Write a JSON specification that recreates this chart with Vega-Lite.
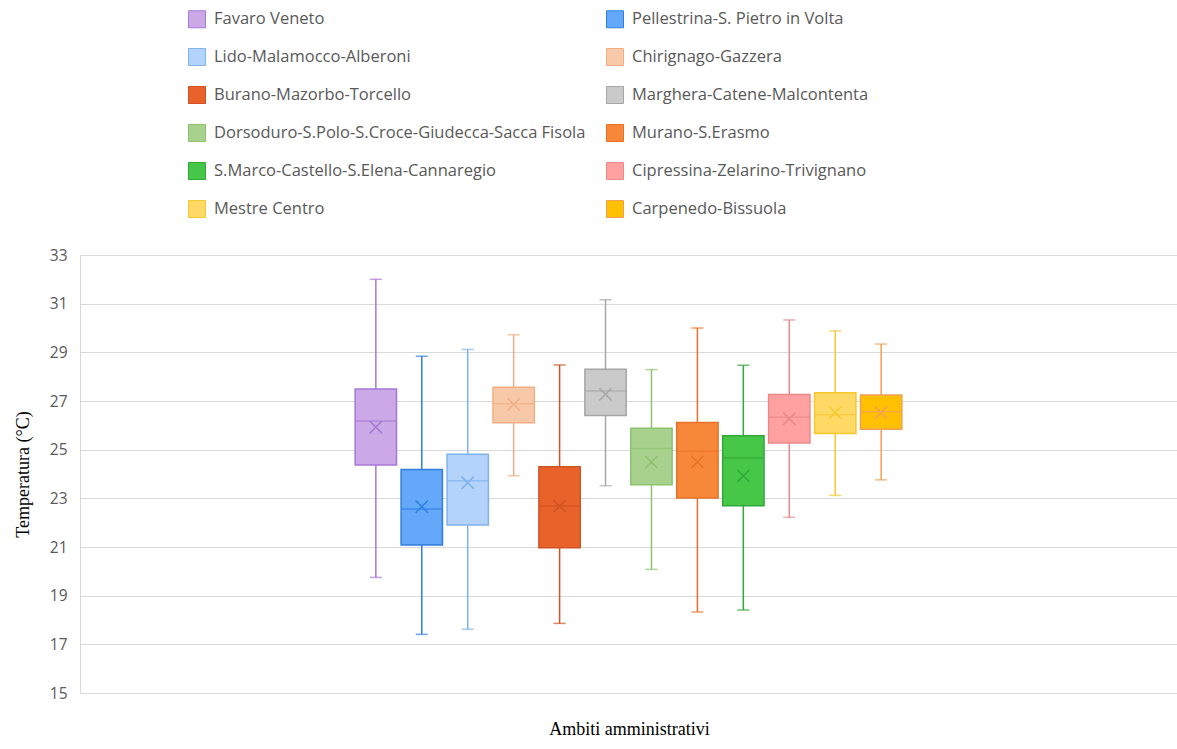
{
  "$schema": "https://vega.github.io/schema/vega-lite/v6.json",
  "autosize": {"type": "none"},
  "width": 1097,
  "height": 438,
  "padding": {"left": 80, "top": 255, "right": 0, "bottom": 56},
  "background": "white",
  "config": {
    "view": {"stroke": null},
    "font": "Open Sans",
    "legend": {
      "orient": "none",
      "legendX": 108,
      "legendY": -245,
      "direction": "horizontal",
      "columns": 2,
      "columnPadding": 18,
      "rowPadding": 16,
      "padding": 0,
      "symbolType": "square",
      "symbolSize": 289,
      "symbolStrokeWidth": 1,
      "labelFont": "Open Sans",
      "labelFontSize": 16.5,
      "labelColor": "#595959",
      "labelOffset": 8,
      "labelLimit": 500
    }
  },
  "data": {
    "values": [
      {"ambito": "Favaro Veneto", "min": 19.75, "q1": 24.37, "median": 26.18, "q3": 27.49, "max": 32.0, "mean": 25.93},
      {"ambito": "Pellestrina-S. Pietro in Volta", "min": 17.41, "q1": 21.08, "median": 22.56, "q3": 24.19, "max": 28.84, "mean": 22.66},
      {"ambito": "Lido-Malamocco-Alberoni", "min": 17.62, "q1": 21.9, "median": 23.72, "q3": 24.81, "max": 29.12, "mean": 23.64},
      {"ambito": "Chirignago-Gazzera", "min": 23.93, "q1": 26.11, "median": 26.89, "q3": 27.57, "max": 29.72, "mean": 26.86},
      {"ambito": "Burano-Mazorbo-Torcello", "min": 17.86, "q1": 20.97, "median": 22.68, "q3": 24.3, "max": 28.48, "mean": 22.68},
      {"ambito": "Marghera-Catene-Malcontenta", "min": 23.52, "q1": 26.4, "median": 27.41, "q3": 28.3, "max": 31.16, "mean": 27.27},
      {"ambito": "Dorsoduro-S.Polo-S.Croce-Giudecca-Sacca Fisola", "min": 20.08, "q1": 23.56, "median": 25.05, "q3": 25.88, "max": 28.29, "mean": 24.49},
      {"ambito": "Murano-S.Erasmo", "min": 18.33, "q1": 23.01, "median": 24.94, "q3": 26.12, "max": 30.0, "mean": 24.5},
      {"ambito": "S.Marco-Castello-S.Elena-Cannaregio", "min": 18.41, "q1": 22.7, "median": 24.66, "q3": 25.57, "max": 28.47, "mean": 23.92},
      {"ambito": "Cipressina-Zelarino-Trivignano", "min": 22.22, "q1": 25.27, "median": 26.33, "q3": 27.27, "max": 30.33, "mean": 26.27},
      {"ambito": "Mestre Centro", "min": 23.12, "q1": 25.66, "median": 26.44, "q3": 27.34, "max": 29.88, "mean": 26.52},
      {"ambito": "Carpenedo-Bissuola", "min": 23.76, "q1": 25.84, "median": 26.56, "q3": 27.25, "max": 29.34, "mean": 26.52}
    ]
  },
  "encoding": {
    "x": {
      "datum": "Ambiti",
      "type": "nominal",
      "scale": {"paddingInner": 0, "paddingOuter": 0.495},
      "axis": {
        "labels": false,
        "ticks": false,
        "domain": false,
        "grid": false,
        "title": "Ambiti amministrativi",
        "titleFont": "Liberation Serif",
        "titleFontSize": 18,
        "titleFontWeight": "normal",
        "titleColor": "#000000",
        "titleX": 549,
        "titleY": 41,
        "titleAlign": "center",
        "titleBaseline": "alphabetic"
      }
    },
    "xOffset": {
      "field": "ambito",
      "type": "nominal",
      "scale": {
        "domain": ["Favaro Veneto", "Pellestrina-S. Pietro in Volta", "Lido-Malamocco-Alberoni", "Chirignago-Gazzera", "Burano-Mazorbo-Torcello", "Marghera-Catene-Malcontenta", "Dorsoduro-S.Polo-S.Croce-Giudecca-Sacca Fisola", "Murano-S.Erasmo", "S.Marco-Castello-S.Elena-Cannaregio", "Cipressina-Zelarino-Trivignano", "Mestre Centro", "Carpenedo-Bissuola"],
        "paddingInner": 0.1,
        "paddingOuter": 0.05
      }
    }
  },
  "layer": [
    {
      "mark": {"type": "rule", "strokeWidth": 1.5},
      "encoding": {
        "y": {
          "field": "min",
          "type": "quantitative",
          "scale": {"domain": [15, 33], "nice": false, "zero": false},
          "axis": {
            "values": [15, 17, 19, 21, 23, 25, 27, 29, 31, 33],
            "grid": true,
            "gridColor": "#D9D9D9",
            "gridWidth": 1,
            "domain": true,
            "domainColor": "#D9D9D9",
            "domainWidth": 1,
            "ticks": false,
            "labelPadding": 13,
            "labelFont": "Open Sans",
            "labelFontSize": 15.5,
            "labelColor": "#595959",
            "title": "Temperatura (°C)",
            "titleFont": "Liberation Serif",
            "titleFontSize": 18,
            "titleFontWeight": "normal",
            "titleColor": "#000000",
            "titleX": -57,
            "titleY": 219,
            "titleAlign": "center",
            "titleBaseline": "middle"
          }
        },
        "y2": {"field": "max"},
        "stroke": {
          "field": "ambito",
          "type": "nominal",
          "scale": {
            "domain": ["Favaro Veneto", "Pellestrina-S. Pietro in Volta", "Lido-Malamocco-Alberoni", "Chirignago-Gazzera", "Burano-Mazorbo-Torcello", "Marghera-Catene-Malcontenta", "Dorsoduro-S.Polo-S.Croce-Giudecca-Sacca Fisola", "Murano-S.Erasmo", "S.Marco-Castello-S.Elena-Cannaregio", "Cipressina-Zelarino-Trivignano", "Mestre Centro", "Carpenedo-Bissuola"],
            "range": ["#A678D6", "#2F7FDE", "#7FB3EE", "#F2AE84", "#CF5324", "#A6A6A6", "#8CC36E", "#E8712A", "#30A838", "#E88A8A", "#F5C830", "#EEA055"]
          },
          "legend": {"title": null}
        }
      }
    },
    {
      "mark": {"type": "bar", "strokeWidth": 1.5},
      "encoding": {
        "y": {"field": "q1", "type": "quantitative"},
        "y2": {"field": "q3"},
        "fill": {
          "field": "ambito",
          "type": "nominal",
          "scale": {
            "domain": ["Favaro Veneto", "Pellestrina-S. Pietro in Volta", "Lido-Malamocco-Alberoni", "Chirignago-Gazzera", "Burano-Mazorbo-Torcello", "Marghera-Catene-Malcontenta", "Dorsoduro-S.Polo-S.Croce-Giudecca-Sacca Fisola", "Murano-S.Erasmo", "S.Marco-Castello-S.Elena-Cannaregio", "Cipressina-Zelarino-Trivignano", "Mestre Centro", "Carpenedo-Bissuola"],
            "range": ["#CBA8E6", "#64A8FA", "#B4D3FA", "#F8C9A8", "#E8622A", "#CACACA", "#A9D18E", "#F7883A", "#47C748", "#FFA1A1", "#FFD966", "#FFC000"]
          },
          "legend": {"title": null}
        },
        "stroke": {"field": "ambito", "type": "nominal", "legend": {"title": null}}
      }
    },
    {
      "mark": {"type": "tick", "size": 41, "thickness": 1.5},
      "encoding": {
        "y": {"field": "median", "type": "quantitative"},
        "color": {
          "field": "ambito",
          "type": "nominal",
          "scale": {
            "domain": ["Favaro Veneto", "Pellestrina-S. Pietro in Volta", "Lido-Malamocco-Alberoni", "Chirignago-Gazzera", "Burano-Mazorbo-Torcello", "Marghera-Catene-Malcontenta", "Dorsoduro-S.Polo-S.Croce-Giudecca-Sacca Fisola", "Murano-S.Erasmo", "S.Marco-Castello-S.Elena-Cannaregio", "Cipressina-Zelarino-Trivignano", "Mestre Centro", "Carpenedo-Bissuola"],
            "range": ["#A678D6", "#2F7FDE", "#7FB3EE", "#F2AE84", "#CF5324", "#A6A6A6", "#8CC36E", "#E8712A", "#30A838", "#E88A8A", "#F5C830", "#EEA055"]
          },
          "legend": null
        }
      }
    },
    {
      "mark": {"type": "tick", "size": 12, "thickness": 1.5},
      "encoding": {
        "y": {"field": "min", "type": "quantitative"},
        "color": {"field": "ambito", "type": "nominal", "legend": null}
      }
    },
    {
      "mark": {"type": "tick", "size": 12, "thickness": 1.5},
      "encoding": {
        "y": {"field": "max", "type": "quantitative"},
        "color": {"field": "ambito", "type": "nominal", "legend": null}
      }
    },
    {
      "mark": {"type": "point", "shape": "M-1,-1L1,1M-1,1L1,-1", "filled": false, "size": 150, "strokeWidth": 1.5, "opacity": 1},
      "encoding": {
        "y": {"field": "mean", "type": "quantitative"},
        "stroke": {"field": "ambito", "type": "nominal", "legend": {"title": null}}
      }
    }
  ]
}
